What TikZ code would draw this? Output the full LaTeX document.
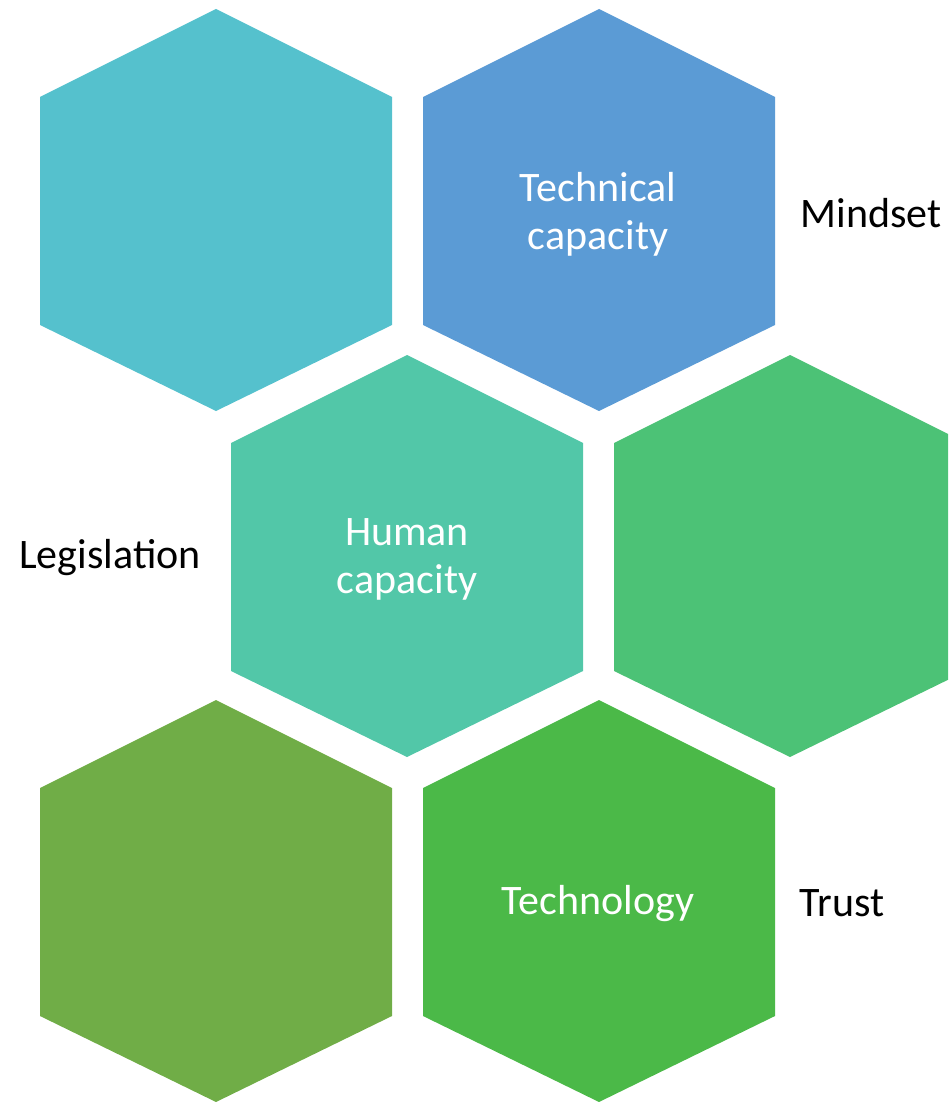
\documentclass[tikz,border=0pt]{standalone}
\usepackage{fontspec}
\setmainfont{Carlito}
\definecolor{hexA}{HTML}{55C1CD}
\definecolor{hexB}{HTML}{5B9BD5}
\definecolor{hexC}{HTML}{52C7A8}
\definecolor{hexD}{HTML}{4CC276}
\definecolor{hexE}{HTML}{70AD47}
\definecolor{hexF}{HTML}{4BB948}
\tikzset{
  hexa/.pic={\fill[pic actions] (0,-201) -- (176,-113) -- (176,115) -- (0,201)
    -- (-176,115) -- (-176,-113) -- cycle;},
  inlabel/.style={text=white, align=center, font=\fontsize{42}{48}\selectfont},
  outlabel/.style={text=black, align=center, font=\fontsize{42}{48}\selectfont},
}
\begin{document}
\begin{tikzpicture}[x=1pt, y=-1pt]
  \useasboundingbox (0,0) rectangle (948,1102);
  \clip (0,0) rectangle (948,1102);
  % honeycomb of six cells
  \pic[fill=hexA] at (216,210) {hexa};
  \pic[fill=hexB] at (599,210) {hexa};
  \pic[fill=hexC] at (407,556) {hexa};
  \pic[fill=hexD] at (790,556) {hexa};
  \pic[fill=hexE] at (216,901) {hexa};
  \pic[fill=hexF] at (599,901) {hexa};
  % labels inside the cells
  \node[inlabel] (tech) at (598,214) {Technical\\capacity};
  \node[inlabel] (human) at (407,559) {Human\\capacity};
  \node[inlabel] (techno) at (598,904) {Technology};
  % labels beside the cells
  \node[outlabel] (mind) at (871,213) {Mindset};
  \node[outlabel] (legis) at (110,558) {Legislation};
  \node[outlabel] (trust) at (842,903) {Trust};
\end{tikzpicture}
\end{document}
